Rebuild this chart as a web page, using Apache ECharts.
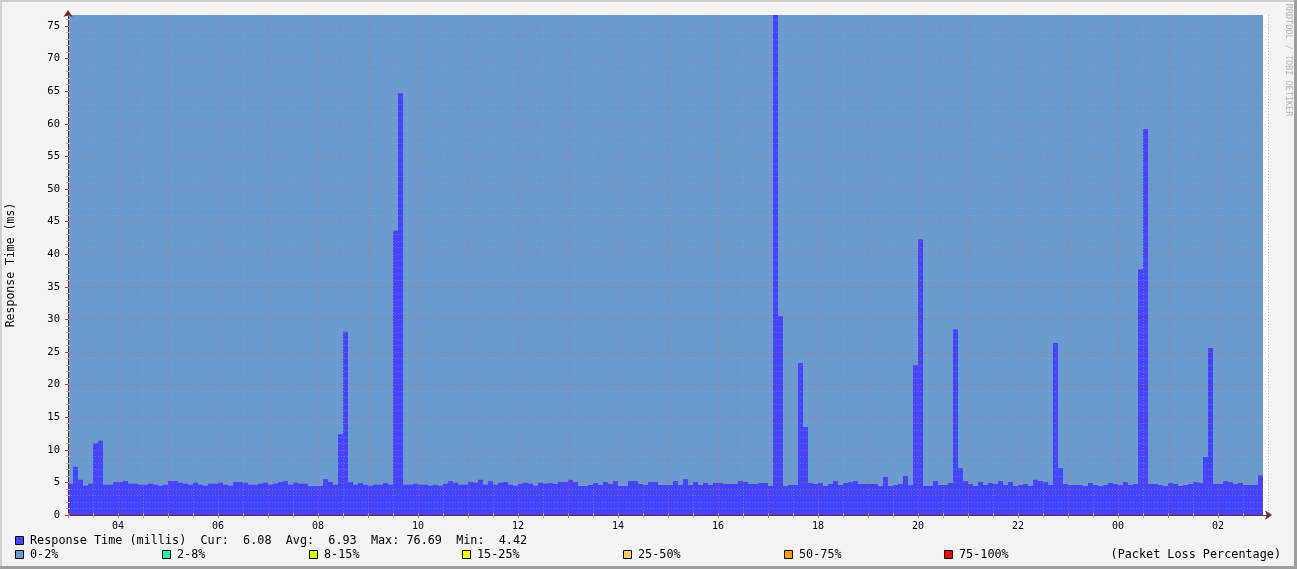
<!DOCTYPE html>
<html>
<head>
<meta charset="utf-8">
<script src="https://cdn.jsdelivr.net/npm/echarts@6/dist/echarts.min.js"></script>
<style>
html,body{margin:0;padding:0;background:#f3f3f3;}
#chart{width:1297px;height:569px;}
</style>
</head>
<body>
<div id="chart"></div>
<script>
// ---- data ----
var startHour = 3;            // first slot begins 03:00
var slotMinutes = 6;          // one bar per 6 minutes
var responseMs = [
  4.8, 7.4, 5.4, 4.5, 4.8, 11.0, 11.4, 4.65, 4.65, 5.07,
  5.07, 5.2, 4.8, 4.8, 4.65, 4.65, 4.8, 4.65, 4.5, 4.65,
  5.2, 5.2, 4.95, 4.8, 4.65, 4.95, 4.65, 4.5, 4.8, 4.8,
  4.95, 4.65, 4.5, 5.07, 5.07, 4.95, 4.65, 4.65, 4.8, 4.95,
  4.65, 4.8, 5.07, 5.2, 4.65, 4.95, 4.8, 4.8,
  4.42, 4.45, 4.45, 5.5, 5.07, 4.65, 12.4, 28.1, 5.07, 4.65,
  4.9, 4.65, 4.5, 4.65, 4.65, 4.9, 4.65, 43.6, 64.7, 4.65,
  4.65, 4.8, 4.65, 4.65, 4.5, 4.65, 4.5, 4.8, 5.2, 4.95,
  4.65, 4.65, 5.07, 4.95, 5.4, 4.65, 5.2, 4.65, 4.95, 5.07,
  4.65, 4.5, 4.8, 4.95, 4.8, 4.5, 4.95, 4.8,
  4.9, 4.75, 5.07, 5.07, 5.4, 5.07, 4.45, 4.45, 4.6, 4.9,
  4.6, 5.07, 4.75, 5.2, 4.45, 4.45, 5.2, 5.2, 4.75, 4.6,
  5.07, 5.07, 4.6, 4.6, 4.6, 5.2, 4.6, 5.5, 4.6, 5.07,
  4.6, 4.9, 4.6, 4.9, 4.9, 4.75, 4.75, 4.75, 5.2, 5.07,
  4.75, 4.75, 4.9, 4.9, 4.45, 76.69, 30.5, 4.45,
  4.6, 4.6, 23.3, 13.5, 4.9, 4.75, 4.9, 4.45, 4.75, 5.2,
  4.6, 4.9, 5.07, 5.2, 4.75, 4.75, 4.75, 4.75, 4.42, 5.85,
  4.45, 4.6, 4.75, 6.0, 4.6, 23.0, 42.3, 4.45, 4.45, 5.2,
  4.6, 4.6, 4.9, 28.5, 7.2, 5.2, 4.75, 4.45, 5.07, 4.6,
  4.9, 4.75, 5.2, 4.6, 5.07, 4.45, 4.6, 4.75,
  4.45, 5.4, 5.2, 5.07, 4.6, 26.4, 7.2, 4.75, 4.6, 4.6,
  4.6, 4.45, 4.9, 4.6, 4.45, 4.6, 4.9, 4.75, 4.6, 5.07,
  4.6, 4.75, 37.7, 59.2, 4.75, 4.75, 4.6, 4.45, 4.9, 4.75,
  4.45, 4.6, 4.75, 5.07, 4.9, 8.9, 25.6, 4.75, 4.75, 5.2,
  5.07, 4.75, 4.9, 4.6, 4.6, 4.6, 6.08
];
var stats = { cur: '6.08', avg: '6.93', max: '76.69', min: '4.42' };
var yMax = 76.69;
var lossLabels = ['0-2%', '2-8%', '8-15%', '15-25%', '25-50%', '50-75%', '75-100%'];
var lossColors = ['#6a9bcf', '#1ef0aa', '#ccff00', '#ffff00', '#ffcc66', '#ff9900', '#ff0000'];
// observed packet-loss band over the whole period: 0-2%
var lossSpans = [{ fromSlot: 0, toSlot: 239, band: 0 }];

// ---- build ----
var barData = responseMs.map(function (v, i) {
  return [i * slotMinutes + slotMinutes / 2, v];
});
var lossAreas = lossSpans.map(function (s) {
  return [
    { xAxis: s.fromSlot * slotMinutes, yAxis: 0, itemStyle: { color: lossColors[s.band] } },
    { xAxis: s.toSlot * slotMinutes, yAxis: yMax }
  ];
});

var mono = 'DejaVu Sans Mono';
var majorGrid = { show: true, lineStyle: { color: 'rgba(235,90,90,0.5)', type: [1, 2], width: 1 } };
var minorGrid = { show: true, lineStyle: { color: 'rgba(160,160,160,0.45)', type: [1, 2], width: 1 } };

function hourLabel(v) {
  var h = (startHour + v / 60) % 24;
  if (Math.abs(h - Math.round(h)) > 1e-6) return '';
  h = Math.round(h);
  if (h % 2 !== 0) return '';
  return (h < 10 ? '0' : '') + h;
}
function yLabel(v) {
  return Math.abs(v - Math.round(v / 5) * 5) < 1e-6 ? String(Math.round(v)) : '';
}

// legend graphics
var graphics = [];
function square(x, y, color) {
  graphics.push({ type: 'rect', shape: { x: x + 0.5, y: y + 0.5, width: 8, height: 8 },
    style: { fill: color, stroke: '#000', lineWidth: 1 } });
}
function label(x, y, text, align) {
  graphics.push({ type: 'text', x: x, y: y,
    style: { text: text, font: '11.8px "' + mono + '"', fill: '#000',
      textAlign: align || 'left', textVerticalAlign: 'middle' } });
}
square(15, 536, '#4444ff');
label(30, 541, 'Response Time (millis)  Cur:  ' + stats.cur + '  Avg:  ' + stats.avg +
  '  Max: ' + stats.max + '  Min:  ' + stats.min);
var lossX = [15, 162, 309, 462, 623, 784, 944];
lossLabels.forEach(function (t, i) {
  square(lossX[i], 550, lossColors[i]);
  label(lossX[i] + 15, 555, t);
});
label(1281, 555, '(Packet Loss Percentage)', 'right');
// y axis title
graphics.push({ type: 'text', x: 11, y: 265, rotation: Math.PI / 2,
  style: { text: 'Response Time (ms)', font: '11.5px "' + mono + '"', fill: '#000',
    textAlign: 'center', textVerticalAlign: 'middle' } });
// watermark
graphics.push({ type: 'text', x: 1288, y: 60, rotation: -Math.PI / 2,
  style: { text: 'RRDTOOL / TOBI OETIKER', font: '8.5px "' + mono + '"', fill: '#b4b4b4',
    textAlign: 'center', textVerticalAlign: 'middle' } });
// frame shading
graphics.push({ type: 'rect', shape: { x: 0, y: 0, width: 1297, height: 2 }, style: { fill: '#cfcfcf' } });
graphics.push({ type: 'rect', shape: { x: 0, y: 0, width: 2, height: 569 }, style: { fill: '#cfcfcf' } });
graphics.push({ type: 'rect', shape: { x: 0, y: 566, width: 1297, height: 3 }, style: { fill: '#9e9e9e' } });
graphics.push({ type: 'rect', shape: { x: 1294, y: 0, width: 3, height: 569 }, style: { fill: '#9e9e9e' } });

var xCommon = { type: 'value', min: 0, max: 1440, interval: 60, gridIndex: 0 };
var yCommon = { type: 'value', min: 0, max: yMax, interval: 5, gridIndex: 0 };

var option = {
  animation: false,
  backgroundColor: '#f3f3f3',
  grid: { left: 68, right: 29, top: 15, bottom: 54, show: true, backgroundColor: '#ffffff', borderWidth: 0 },
  graphic: graphics,
  xAxis: [
    Object.assign({}, xCommon, {
      position: 'bottom', z: 5,
      axisLine: { show: true, lineStyle: { color: '#6a2a2a', width: 1 }, symbol: ['none', 'arrow'], symbolSize: [7, 7], symbolOffset: [0, 4] },
      axisTick: { show: true, length: 3, lineStyle: { color: '#e06060' } },
      minorTick: { show: true, splitNumber: 2, length: 3, lineStyle: { color: '#aaaaaa' } },
      axisLabel: { formatter: hourLabel, fontFamily: mono, fontSize: 10, color: '#000', margin: 6, showMinLabel: true, showMaxLabel: true },
      splitLine: Object.assign({ showMinLine: false, showMaxLine: true }, majorGrid),
      minorSplitLine: minorGrid
    }),
    Object.assign({}, xCommon, {
      position: 'top', z: 5,
      axisLine: { show: false },
      axisTick: { show: true, length: 2, lineStyle: { color: '#e08080' } },
      minorTick: { show: true, splitNumber: 2, length: 2, lineStyle: { color: '#bbbbbb' } },
      axisLabel: { show: false },
      splitLine: { show: false }
    })
  ],
  yAxis: [
    Object.assign({}, yCommon, {
      position: 'left', z: 5,
      axisLine: { show: true, lineStyle: { color: '#6a2a2a', width: 1 }, symbol: ['none', 'arrow'], symbolSize: [7, 7], symbolOffset: [0, 5] },
      axisTick: { show: true, length: 3, lineStyle: { color: '#8a5050' } },
      minorTick: { show: true, splitNumber: 5, length: 2, lineStyle: { color: '#aaaaaa' } },
      axisLabel: { formatter: yLabel, fontFamily: mono, fontSize: 10.5, color: '#000', margin: 8 },
      splitLine: Object.assign({ showMinLine: false, showMaxLine: false }, majorGrid),
      minorSplitLine: minorGrid
    }),
    Object.assign({}, yCommon, {
      position: 'right', z: 5,
      axisLine: { show: false },
      axisTick: { show: true, length: 2, lineStyle: { color: '#e08080' } },
      minorTick: { show: true, splitNumber: 5, length: 2, lineStyle: { color: '#bbbbbb' } },
      axisLabel: { show: false },
      splitLine: { show: false }
    })
  ],
  series: [
    {
      name: 'Packet Loss', type: 'line', data: [], z: 1, silent: true,
      xAxisIndex: 0, yAxisIndex: 0,
      markArea: { silent: true, data: lossAreas }
    },
    {
      name: 'Response Time (millis)', type: 'bar', data: barData, z: 2,
      xAxisIndex: 0, yAxisIndex: 0,
      barWidth: 5, silent: true,
      itemStyle: { color: '#4444ff', borderWidth: 0 }
    }
  ]
};
var chart = echarts.init(document.getElementById('chart'), null, { renderer: 'canvas' });
chart.setOption(option);
</script>
</body>
</html>
